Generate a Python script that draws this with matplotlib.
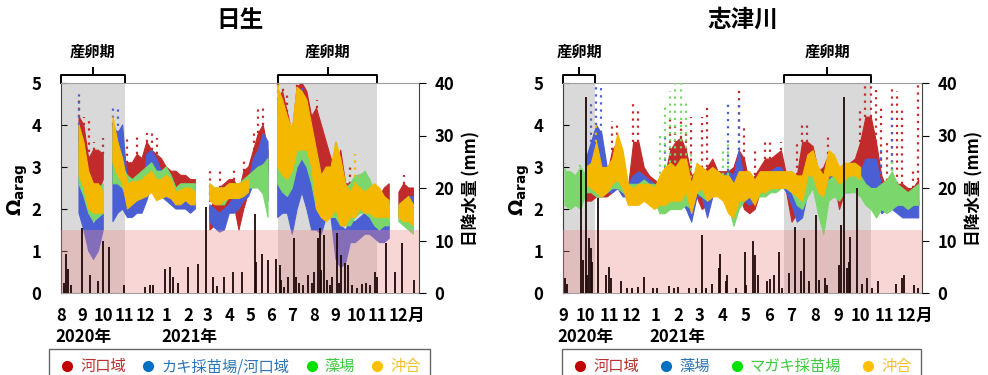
import numpy as np
import matplotlib
matplotlib.use('Agg')
import matplotlib.pyplot as plt
import matplotlib.dates as mdates
from matplotlib import transforms
from matplotlib.lines import Line2D

plt.rcParams['font.family'] = ['Noto Sans CJK JP', 'DejaVu Sans']
plt.rcParams['font.weight'] = 'bold'
plt.rcParams['mathtext.fontset'] = 'dejavusans'

nan = np.nan

# ---------------- 日生 : weekly Ω_arag range, days from 2020-08-01 ----------------
hin_start = '2020-08-01'
hin_end_day = 517
hin_days = np.arange(26, 510, 7)

hin_red_lo = [3.2, 2.6, 2.6, 2.3, 2.4, 2.7, nan,
              2.6, 2.6, 2.6, 2.6, 2.6, 2.6, 2.6, 2.8, 2.8, 2.7, 2.6, 2.5, 2.4, 2.4, 2.4, 2.4, 2.4, 2.4,
              nan, nan,
              1.5, 1.6, 1.8, 1.8, 2.0, 2.1, 1.5, 2.0, 2.4, 2.6, 2.8, 2.9, 2.9, nan,
              2.8, 3.0, 3.0, 3.0, 3.8, 3.6, 3.4, 3.2, 2.7, 2.6, 2.6, 2.4, 2.0, 2.0, 1.8, 2.0, 2.0, 2.2,
              2.0, 1.6, 1.5, 1.4, 2.0, 2.1, nan, 2.1, 2.2, 2.2, 2.2]
hin_red_hi = [4.2, 4.0, 3.2, 3.4, 3.4, 3.3, nan,
              3.4, 3.3, 3.2, 3.1, 3.1, 3.3, 3.2, 3.6, 3.4, 3.3, 3.2, 3.0, 2.9, 2.9, 2.8, 2.8, 2.7, 2.7,
              nan, nan,
              2.0, 2.2, 2.5, 2.6, 2.7, 2.7, 2.4, 2.9, 3.0, 3.4, 3.8, 4.0, 3.4, nan,
              4.6, 4.8, 4.3, 3.8, 4.9, 5.0, 4.8, 4.2, 4.4, 4.0, 3.6, 3.2, 3.0, 3.4, 2.6, 2.6, 2.6, 2.6,
              2.8, 2.6, 2.4, 2.3, 2.5, 2.6, nan, 2.4, 2.6, 2.5, 2.5]
hin_blue_lo = [1.9, 1.5, 1.0, 0.8, 1.0, 1.5, nan,
               1.7, 1.9, 2.0, 1.8, 1.8, 1.9, 1.9, 2.2, 2.6, 2.3, 2.3, 2.2, 2.1, 2.0, 2.0, 2.0, 1.9, 2.0,
               nan, nan,
               1.7, 1.55, 1.45, 1.5, 1.9, 1.9, 2.0, 2.2, 2.3, 2.6, 2.6, 2.65, 2.2, nan,
               1.8, 1.9, 1.9, 1.4, 2.0, 2.4, 2.0, 1.5, 1.5, 1.4, 1.8, 1.8, 0.8, 0.6, 0.7, 1.2, 1.2, 1.3,
               1.4, 1.4, 1.3, 1.2, 1.2, 1.3, nan, 1.8, 1.9, 2.0, 1.9]
hin_blue_hi = [4.0, 3.2, 2.2, 1.6, 1.9, 2.0, nan,
               4.0, 3.8, 4.0, 2.6, 2.2, 2.2, 2.3, 3.3, 3.4, 3.2, 2.9, 2.8, 2.6, 2.3, 2.3, 2.2, 2.2, 2.2,
               nan, nan,
               2.1, 2.0, 1.9, 2.0, 2.1, 2.3, 2.3, 2.5, 2.6, 3.2, 3.4, 3.8, 3.6, nan,
               3.4, 3.2, 2.9, 2.9, 3.4, 3.8, 3.6, 3.2, 3.4, 2.8, 2.8, 2.6, 1.8, 1.6, 1.5, 1.7, 1.7, 1.8,
               1.9, 1.8, 1.7, 1.6, 1.7, 1.7, nan, 2.1, 2.2, 2.3, 2.3]
hin_green_lo = [2.6, 2.3, 1.9, 1.7, 1.8, 1.9, nan,
                2.6, 2.6, 2.5, 2.2, 2.2, 2.3, 2.4, 2.5, 2.6, 2.3, 2.3, 2.4, 2.3, 2.3, 2.3, 2.2, 2.3, 2.3,
                nan, nan,
                2.2, 2.2, 2.1, 2.1, 2.3, 2.3, 2.3, 2.4, 2.5, 2.5, 2.5, 2.35, 1.8, nan,
                2.6, 2.4, 2.3, 2.5, 3.0, 3.2, 3.0, 2.6, 2.0, 1.8, 1.8, 1.8, 1.8, 1.6, 1.6, 1.6, 1.8, 1.9,
                1.9, 1.8, 1.6, 1.5, 1.6, 1.6, nan, 1.7, 1.6, 1.5, 1.4]
hin_green_hi = [3.6, 3.4, 2.8, 2.2, 2.5, 2.6, nan,
                3.6, 3.4, 3.0, 2.8, 2.7, 2.8, 2.9, 3.0, 3.1, 2.9, 2.9, 3.0, 2.8, 2.5, 2.6, 2.6, 2.6, 2.6,
                nan, nan,
                2.6, 2.5, 2.5, 2.5, 2.6, 2.6, 2.6, 2.7, 2.8, 2.9, 3.0, 3.05, 3.2, nan,
                4.2, 4.0, 3.6, 3.5, 4.0, 4.2, 4.0, 3.6, 3.2, 2.6, 2.6, 2.6, 2.6, 2.6, 2.5, 2.6, 2.8, 2.8,
                2.9, 2.7, 2.4, 2.2, 2.0, 2.0, nan, 2.0, 2.1, 2.2, 2.1]
hin_yellow_lo = [2.8, 2.5, 2.0, 1.9, 1.9, 1.9, nan,
                 3.1, 2.8, 2.6, 2.0, 2.1, 2.2, 2.25, 2.3, 2.4, 2.2, 2.25, 2.3, 2.25, 2.1, 2.1, 2.2, 2.1, 2.1,
                 nan, nan,
                 2.2, 2.1, 2.1, 2.2, 2.25, 2.25, 2.25, 2.3, 2.4, nan, nan, nan, nan, nan,
                 3.0, 2.8, 2.7, 2.9, 3.4, 3.4, 3.4, 3.0, 2.0, 1.8, 1.7, 1.8, 2.0, 1.6, 1.6, 1.8, 1.8, 2.0,
                 1.9, 1.9, 1.8, 1.8, 1.8, 1.8, nan, 1.8, 1.7, 1.7, 1.6]
hin_yellow_hi = [4.0, 3.6, 2.9, 2.6, 2.6, 2.4, nan,
                 4.2, 3.6, 3.2, 2.6, 2.65, 2.65, 2.7, 2.8, 2.9, 2.7, 2.7, 2.8, 2.7, 2.4, 2.45, 2.5, 2.5, 2.4,
                 nan, nan,
                 2.6, 2.5, 2.5, 2.5, 2.6, 2.6, 2.6, 2.65, 2.7, nan, nan, nan, nan, nan,
                 4.9, 4.6, 4.2, 3.9, 4.9, 4.8, 4.6, 4.0, 3.4, 2.8, 3.0, 3.0, 3.6, 3.2, 2.6, 2.4, 2.6, 2.5,
                 2.4, 2.5, 2.6, 2.5, 2.3, 2.2, nan, 2.1, 2.2, 2.3, 2.1]

# scattered high readings above the dense band (day, top value)
hin_red_spk_day = [26, 33, 40, 47, 61, 96, 110, 124, 131, 138, 215, 229, 250, 264, 278, 285, 292,
                   313, 320, 327, 341, 369, 397, 418, 432, 495]
hin_red_spk_top = [4.7, 4.2, 4.1, 3.6, 3.7, 3.7, 3.8, 3.8, 3.8, 3.7, 2.9, 2.9, 3.0, 3.2, 3.9, 4.4, 4.4,
                   5.0, 5.0, 4.8, 5.0, 4.6, 3.6, 3.0, 2.9, 2.8]
hin_blue_spk_day = [26, 75, 82, 348]
hin_blue_spk_top = [4.8, 4.4, 4.4, 5.0]
hin_green_spk_day = []
hin_green_spk_top = []
hin_yellow_spk_day = [313, 425]
hin_yellow_spk_top = [5.0, 3.3]

hin_rain_day = [4, 7, 10, 14, 30, 42, 53, 60, 70, 91, 121, 129, 133, 150, 157, 162, 169, 183, 198, 210,
                219, 226, 235, 248, 261, 280, 282, 290, 299, 311, 316, 318, 322, 328, 336, 339, 343, 350,
                357, 362, 366, 371, 374, 376, 380, 384, 388, 392, 398, 402, 405, 410, 414, 420, 427,
                434, 440, 446, 453, 457, 469, 482, 492, 510]
hin_rain_mm = [2.0, 7.4, 4.5, 1.5, 12.4, 3.4, 2.2, 10.0, 8.8, 1.5, 1.2, 1.5, 1.5, 4.5, 5.0, 3.0, 2.0,
               5.0, 5.5, 16.4, 3.0, 1.4, 3.0, 4.0, 4.0, 15.0, 6.0, 7.4, 6.3, 6.4, 5.3, 2.5, 1.2, 3.0,
               10.4, 3.0, 2.0, 1.5, 3.5, 2.0, 4.0, 10.4, 12.3, 4.4, 11.0, 2.5, 1.5, 3.0, 11.4, 2.0,
               7.2, 5.7, 5.3, 1.5, 1.0, 1.8, 2.0, 1.5, 4.0, 3.0, 9.5, 4.0, 9.5, 2.5]

hin_spawn = [('2020-08-01', '2020-11-01'), ('2021-06-10', '2021-11-01')]
hin_months = ['8', '9', '10', '11', '12', '1', '2', '3', '4', '5', '6', '7', '8', '9', '10', '11', '12']
hin_legend = ['河口域', 'カキ採苗場/河口域', '藻場', '沖合']

# ---------------- 志津川 : weekly Ω_arag range, days from 2020-09-01 ----------------
shi_start = '2020-09-01'
shi_end_day = 476
shi_days = np.arange(2, 472, 7)

shi_green_lo = [2.1, 2.0, 2.1, 2.0, 2.4, 2.4, 2.3, 2.3, 2.4, 2.5,
                2.5, 2.4, 2.3, 2.3, 2.3, 2.4, 2.3, 2.2, 1.9, 1.9,
                2.0, 2.0, 2.0, 2.1, 2.0, 2.4, 2.3, 2.2, 2.3, 2.4,
                2.3, 2.1, 1.6, 2.0, 2.2, 2.3, 2.2, 2.3, 2.3, 2.4,
                2.4, 2.5, 2.5, 2.4, 2.1, 2.0, 2.3, 2.5, 1.9, 1.4,
                2.2, 2.3, 2.2, 2.4, 2.4, 2.4, 2.3, 2.1, 2.0, 1.8,
                2.0, 1.9, 2.0, 2.1, 2.1, 2.0, 2.1, 2.1]
shi_green_hi = [2.9, 2.9, 2.8, 3.0, 2.8, 2.8, 2.7, 2.7, 2.8, 2.8,
                2.8, 2.7, 2.6, 2.6, 2.6, 2.7, 2.6, 2.6, 2.5, 2.5,
                2.6, 2.6, 2.6, 2.6, 2.4, 2.8, 2.8, 2.6, 2.7, 2.9,
                2.8, 2.8, 2.6, 2.6, 2.6, 2.7, 2.6, 2.7, 2.7, 2.7,
                2.7, 2.8, 2.8, 2.8, 2.6, 2.6, 2.8, 2.9, 2.7, 2.3,
                2.7, 2.8, 2.6, 2.7, 2.8, 2.8, 2.8, 2.6, 2.5, 2.5,
                2.6, 2.7, 2.9, 2.6, 2.5, 2.4, 2.5, 2.6]
shi_yellow_lo = [nan, nan, nan, nan, 2.6, 2.5, 2.4, 2.3, 2.4, 2.6,
                 2.7, 2.5, 2.1, 2.1, 2.1, 2.2, 2.1, 2.0, 2.1, 2.1,
                 2.2, 2.2, 2.2, 2.4, 1.9, 2.4, 2.5, 2.2, 2.3, 2.3,
                 2.2, 1.9, 1.8, 2.2, 2.2, 2.3, 2.1, 2.4, 2.4, 2.5,
                 2.5, 2.5, 2.5, 2.4, 2.3, 2.2, 2.8, 2.8, 2.4, 2.3,
                 2.8, 2.8, 2.6, 2.7, 2.8, 2.8, 2.7, nan, nan, nan,
                 nan, nan, nan, nan, nan, nan, nan, nan]
shi_yellow_hi = [nan, nan, nan, nan, 3.0, 3.1, 3.6, 3.0, 3.0, 3.2,
                 3.8, 3.4, 2.6, 2.5, 2.6, 2.6, 2.6, 2.5, 2.8, 3.0,
                 3.1, 3.0, 3.2, 3.2, 2.6, 3.1, 3.0, 2.9, 3.0, 2.9,
                 2.8, 2.8, 2.6, 2.9, 2.9, 2.9, 2.7, 2.9, 2.9, 2.9,
                 2.9, 2.9, 2.9, 2.9, 2.8, 2.8, 3.3, 3.4, 3.0, 2.8,
                 3.4, 3.3, 3.0, 3.1, 3.1, 3.1, 3.0, nan, nan, nan,
                 nan, nan, nan, nan, nan, nan, nan, nan]
shi_red_lo = [nan, nan, nan, nan, 2.2, 2.2, 2.3, 2.3, 2.3, 2.4,
              2.5, 2.4, 2.2, 2.3, 2.3, 2.3, 2.4, 2.4, 2.3, 2.2,
              2.4, 2.5, 2.3, 2.2, 2.1, 2.3, 2.0, 2.1, 2.4, 2.4,
              2.4, 2.3, 2.3, 2.4, 2.0, 1.9, 2.0, 2.4, 2.5, 2.6,
              2.8, 2.8, 2.4, 1.7, 1.9, 2.8, 3.0, 2.9, 2.3, 2.4,
              2.8, 2.7, 2.0, 2.4, 2.8, 2.8, 2.8, 2.8, 2.6, 2.4,
              2.0, 2.0, 2.1, 2.2, 2.2, 2.2, 2.0, 2.1]
shi_red_hi = [nan, nan, nan, nan, 2.6, 2.6, 2.8, 2.8, 2.8, 3.4,
              3.6, 3.0, 2.5, 3.6, 3.6, 3.0, 2.8, 2.7, 2.6, 2.8,
              3.4, 3.6, 3.7, 3.4, 2.8, 2.9, 2.8, 3.0, 3.2, 2.9,
              2.9, 2.9, 3.0, 3.4, 3.2, 2.6, 2.8, 3.0, 3.2, 3.2,
              3.3, 3.4, 2.8, 2.6, 2.8, 3.6, 3.6, 3.5, 2.9, 3.0,
              3.3, 3.2, 2.6, 2.9, 3.1, 3.2, 3.6, 4.2, 4.2, 3.6,
              2.8, 2.5, 2.6, 2.6, 2.6, 2.5, 2.5, 2.7]
shi_blue_lo = [nan, nan, nan, nan, 2.6, 2.6, 2.8, 2.6, 2.4, 2.4,
               2.5, 2.3, 2.3, 2.3, 2.5, 2.4, 2.3, 2.2, 2.1, 2.2,
               2.4, 2.2, 2.2, 2.0, 1.7, 2.3, 2.3, 1.8, 2.3, 2.4,
               2.4, 2.4, 2.1, 2.4, 2.2, 2.1, 2.2, 2.4, 2.5, 2.5,
               2.6, 2.6, 2.4, 2.1, 1.7, 1.8, 2.4, 2.5, 2.3, 2.3,
               2.4, 2.4, 2.2, 2.4, 2.4, 2.5, 2.5, 2.6, 2.4, 2.2,
               1.9, 2.0, 2.0, 1.9, 1.8, 1.8, 1.8, 1.8]
shi_blue_hi = [nan, nan, nan, nan, 3.2, 3.6, 4.0, 3.8, 3.0, 2.8,
               3.0, 2.7, 2.6, 2.8, 2.9, 2.8, 2.7, 2.6, 2.6, 2.8,
               3.0, 3.0, 2.8, 2.6, 2.3, 2.7, 2.7, 2.3, 2.6, 2.7,
               2.8, 2.9, 2.8, 3.4, 2.7, 2.6, 2.6, 2.8, 2.9, 2.9,
               3.0, 3.0, 2.8, 2.6, 2.3, 2.4, 2.7, 2.8, 2.7, 2.6,
               2.8, 2.7, 2.5, 2.7, 2.8, 2.9, 2.9, 3.2, 3.2, 3.2,
               2.5, 2.5, 2.6, 2.3, 2.1, 2.1, 2.2, 2.2]

shi_red_spk_day = [65, 72, 93, 100, 142, 149, 156, 163, 170, 184, 191, 233, 240, 254, 268, 275, 289,
                   310, 317, 324, 352, 394, 401, 408, 415, 422, 429, 436, 443, 450, 464, 471]
shi_red_spk_top = [4.1, 4.0, 4.5, 4.4, 4.2, 4.0, 4.2, 3.8, 4.2, 4.2, 4.5, 4.9, 4.0, 3.4, 3.6, 3.7, 3.6,
                   3.6, 4.1, 4.0, 3.8, 4.4, 5.0, 5.0, 4.9, 4.4, 3.6, 4.9, 4.8, 4.4, 2.9, 5.0]
shi_blue_spk_day = [37, 44, 51, 135, 219, 233, 422, 436]
shi_blue_spk_top = [4.6, 5.0, 4.9, 3.8, 4.6, 4.6, 3.4, 4.2]
shi_green_spk_day = [2, 23, 128, 135, 142, 149, 156, 163, 170, 212, 219, 436]
shi_green_spk_top = [3.1, 3.1, 3.8, 4.5, 4.8, 5.0, 5.0, 4.6, 3.4, 3.4, 3.6, 3.2]
shi_yellow_spk_day = [44]
shi_yellow_spk_top = [4.0]

shi_rain_day = [3, 5, 24, 26, 30, 32, 35, 37, 39, 47, 57, 61, 64, 77, 85, 92, 99, 108, 119, 125,
                141, 147, 152, 167, 176, 184, 189, 198, 207, 208, 216, 218, 229, 241, 243, 252, 254,
                258, 271, 275, 280, 286, 291, 300, 308, 316, 319, 326, 335, 339, 347, 350, 366, 369,
                373, 377, 379, 381, 390, 396, 403, 410, 418, 441, 449, 452, 466, 471]
shi_rain_mm = [2.9, 1.8, 23.4, 6.3, 37.4, 3.4, 10.4, 8.5, 6.0, 18.1, 3.4, 5.0, 2.8, 2.2, 0.9, 0.9,
               1.2, 3.1, 0.9, 0.9, 1.4, 0.9, 1.2, 0.9, 0.9, 11.0, 0.9, 1.8, 4.7, 7.4, 2.2, 3.4, 0.9,
               7.8, 1.5, 10.0, 7.2, 3.4, 2.2, 2.7, 3.4, 7.8, 0.9, 3.9, 12.5, 4.1, 10.4, 2.2, 14.8,
               2.5, 2.8, 1.5, 5.3, 13.0, 37.4, 4.7, 6.0, 10.6, 20.0, 1.8, 2.8, 0.9, 2.2, 1.8, 2.8,
               3.4, 1.5, 0.9]

shi_spawn = [('2020-09-01', '2020-10-14'), ('2021-06-21', '2021-10-14')]
shi_months = ['9', '10', '11', '12', '1', '2', '3', '4', '5', '6', '7', '8', '9', '10', '11', '12']
shi_legend = ['河口域', '藻場', 'マガキ採苗場', '沖合']

# plot colours
C_RED, C_BLUE, C_GREEN, C_YELLOW = '#C22B2B', '#4B5FD4', '#7BD66B', '#F5B800'
MK_COLORS = ['#C00000', '#0070C0', '#00E000', '#FFC000']
TXT_COLORS = ['#B8312F', '#2E75B6', '#3DCB3D', '#F2BF2A']


def dnum(s):
    return mdates.date2num(np.datetime64(s))


def draw_panel(ax, title, start, end_day, days, bands, rain_day, rain_mm, spawn, months, year_idx):
    base = dnum(start)
    x = base + days
    trans = transforms.blended_transform_factory(ax.transData, ax.transAxes)

    # spawning periods: grey shading + bracket with label
    for s0, s1 in spawn:
        x0, x1 = dnum(s0), dnum(s1)
        xm = (x0 + x1) / 2
        ax.axvspan(x0, x1, color='#D9D9D9', lw=0, zorder=0)
        ax.plot([x0, x0, x1, x1], [1.0, 1.04, 1.04, 1.0], transform=trans,
                color='black', lw=1.4, clip_on=False, solid_joinstyle='round')
        ax.plot([xm, xm], [1.04, 1.072], transform=trans, color='black', lw=1.4, clip_on=False)
        ax.text(xm, 1.15, '産卵期', transform=trans, ha='center', va='center',
                fontsize=11, fontweight='bold')

    # Ω_arag bands and sparse high readings
    for z, (lo, hi, col, sday, stop) in enumerate(bands):
        lo = np.array(lo, dtype=float)
        hi = np.array(hi, dtype=float)
        ax.fill_between(x, lo, hi, color=col, lw=0.8, zorder=2 + z)
        if len(sday):
            idx = np.searchsorted(days, sday)
            ax.vlines(base + np.array(sday), hi[idx], stop, colors=col, lw=1.6,
                      linestyles=(0, (1, 2.2)), zorder=2 + z)

    # undersaturation-risk zone
    ax.axhspan(0, 1.5, color='#F08C8C', alpha=0.35, lw=0, zorder=10)

    ax.set_xlim(base, base + end_day)
    ax.set_ylim(0, 5)
    ax.set_yticks(range(6))
    ax.tick_params(axis='y', direction='in', length=4, pad=14, labelsize=12, right=False)

    mticks = np.arange(np.datetime64(start[:7]), np.datetime64(start[:7]) + len(months))
    mticks = mdates.date2num(mticks.astype('datetime64[D]'))
    ax.set_xticks(mticks)
    ax.set_xticklabels(months)
    ax.tick_params(axis='x', length=0, pad=10, labelsize=12)
    ax.annotate('月', xy=(mticks[-1], 0), xycoords=trans, xytext=(6.5, -10),
                textcoords='offset points', ha='left', va='top', fontsize=12, fontweight='bold')
    for i, lab in zip(year_idx, ['2020年', '2021年']):
        ax.annotate(lab, xy=(mticks[i], 0), xycoords=trans, xytext=(-4, -25),
                    textcoords='offset points', ha='left', va='top', fontsize=12, fontweight='bold')

    for side in ['top', 'bottom']:
        ax.spines[side].set_color('#A0A0A0')
    ax.spines['left'].set_color('#404040')
    ax.spines['right'].set_visible(False)

    ax.text(-0.12, 0.49, r'$\mathbf{\Omega}_{\mathbf{arag}}$', transform=ax.transAxes,
            rotation=90, ha='center', va='center', fontsize=14)
    ax.text(0.5, 1.30, title, transform=ax.transAxes, ha='center', va='center',
            fontsize=17, fontweight='bold')

    # daily precipitation on the right axis
    ax2 = ax.twinx()
    ax2.vlines(base + np.array(rain_day), 0, rain_mm, colors='#1E0707', lw=1.3)
    ax2.set_ylim(0, 40)
    ax2.set_yticks([0, 10, 20, 30, 40])
    ax2.tick_params(axis='y', direction='out', length=5, pad=6, labelsize=12)
    for side in ['top', 'bottom', 'left']:
        ax2.spines[side].set_visible(False)
    ax2.spines['right'].set_color('#404040')
    ax2.set_ylabel('日降水量 (mm)', fontsize=12, fontweight='bold', labelpad=6)
    return ax2


def add_legend(fig, labels, x0, width, top):
    handles = [Line2D([], [], ls='none', marker='o', ms=7, mfc=c, mec=c) for c in MK_COLORS]
    leg = fig.legend(handles, labels, loc='upper left', bbox_to_anchor=(x0, -0.2, width, top + 0.2),
                     mode='expand', ncol=4, frameon=True, fancybox=False, borderaxespad=0,
                     borderpad=0.6, handlelength=1.2, handletextpad=0.25,
                     prop={'size': 11, 'weight': 'normal'})
    leg.get_frame().set_edgecolor('#404040')
    leg.get_frame().set_linewidth(1.0)
    for t, c in zip(leg.get_texts(), TXT_COLORS):
        t.set_color(c)


fig = plt.figure(figsize=(9.88, 3.75), dpi=100)
ax_l = fig.add_axes([61 / 988, 82 / 375, 358 / 988, 210 / 375])
ax_r = fig.add_axes([563 / 988, 82 / 375, 359 / 988, 210 / 375])

draw_panel(ax_l, '日生', hin_start, hin_end_day, hin_days,
           [(hin_red_lo, hin_red_hi, C_RED, hin_red_spk_day, hin_red_spk_top),
            (hin_blue_lo, hin_blue_hi, C_BLUE, hin_blue_spk_day, hin_blue_spk_top),
            (hin_green_lo, hin_green_hi, C_GREEN, hin_green_spk_day, hin_green_spk_top),
            (hin_yellow_lo, hin_yellow_hi, C_YELLOW, hin_yellow_spk_day, hin_yellow_spk_top)],
           hin_rain_day, hin_rain_mm, hin_spawn, hin_months, [0, 5])

draw_panel(ax_r, '志津川', shi_start, shi_end_day, shi_days,
           [(shi_red_lo, shi_red_hi, C_RED, shi_red_spk_day, shi_red_spk_top),
            (shi_blue_lo, shi_blue_hi, C_BLUE, shi_blue_spk_day, shi_blue_spk_top),
            (shi_green_lo, shi_green_hi, C_GREEN, shi_green_spk_day, shi_green_spk_top),
            (shi_yellow_lo, shi_yellow_hi, C_YELLOW, shi_yellow_spk_day, shi_yellow_spk_top)],
           shi_rain_day, shi_rain_mm, shi_spawn, shi_months, [0, 4])

add_legend(fig, hin_legend, 49 / 988, 381 / 988, 1 - 349 / 375)
add_legend(fig, shi_legend, 562 / 988, 359 / 988, 1 - 349 / 375)

fig.savefig('out.png', dpi=100)
